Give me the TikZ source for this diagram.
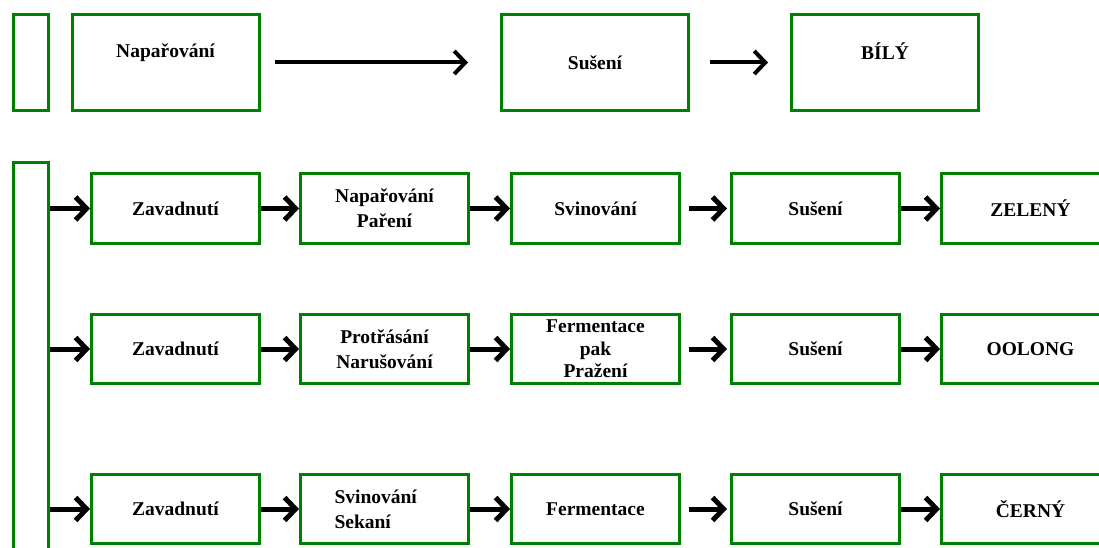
\documentclass[tikz,border=0pt]{standalone}
\usepackage{fontspec}
\setmainfont{Liberation Serif}
\usepackage{tikz}
\usetikzlibrary{arrows.meta,positioning}
\definecolor{leaf}{HTML}{008000}

\begin{document}
\begin{tikzpicture}[x=1pt,y=-1pt,every node/.style={font=\bfseries\fontsize{19.5}{25}\selectfont,align=center},box/.style={draw=leaf,line width=3pt,fill=white,minimum width=168pt,minimum height=69pt,inner sep=0pt},bigbox/.style={box,minimum width=187pt,minimum height=96pt},arr/.style={-{Straight Barb[length=11pt,width=23pt]},line width=5pt,black}]
\useasboundingbox (0,0) rectangle (1099,548);
% top row
\node[draw=leaf,line width=3pt,minimum width=35pt,minimum height=96pt,inner sep=0pt] (bartop) at (31,62.5) {};
\node[bigbox,label={[yshift=10pt]center:Napařování}] (napar) at (165.5,62.5) {};
\node[bigbox] (susb) at (595,62.5) {Sušení};
\node[bigbox,label={[yshift=11pt]center:BÍLÝ}] (bily) at (885,62.5) {};
\draw[arr,line width=4pt,shorten <=14pt,shorten >=32pt] (napar)--(susb);
\draw[arr,line width=4pt,shorten <=20pt,shorten >=22pt] (susb)--(bily);
% left bar
\node[draw=leaf,line width=3pt,minimum width=35pt,minimum height=400pt,inner sep=0pt] (stem) at (31,363) {};
% green row
\node[box] (zav1) at (175.5,208.5) {Zavadnutí};
\node[box,right=38pt of zav1] (par1) {Napařování\\ Paření};
\node[box,right=40pt of par1] (svi1) {Svinování};
\node[box,right=49pt of svi1] (sus1) {Sušení};
\node[box,right=39pt of sus1,minimum width=178pt] (zel) {ZELENÝ};
% oolong row
\node[box] (zav2) at (175.5,349) {Zavadnutí};
\node[box,right=38pt of zav2] (pro2) {Protřásání\\ Narušování};
\node[box,right=40pt of pro2,font=\bfseries\fontsize{19.5}{22.5}\selectfont] (fer2) {Fermentace\\ pak\\ Pražení};
\node[box,right=49pt of fer2] (sus2) {Sušení};
\node[box,right=39pt of sus2,minimum width=178pt] (ool) {OOLONG};
% black row
\node[box] (zav3) at (175.5,509) {Zavadnutí};
\node[box,right=38pt of zav3,align=left,text width=100pt] (svi3) {Svinování\\ Sekaní};
\node[box,right=40pt of svi3] (fer3) {Fermentace};
\node[box,right=49pt of fer3] (sus3) {Sušení};
\node[box,right=39pt of sus3,minimum width=178pt] (cer) {ČERNÝ};
% arrows
\foreach \a in {zav1,zav2,zav3}
  \draw[arr] (stem.east |- \a.west)--(\a.west);
\draw[arr] (zav1)--(par1);
\draw[arr] (par1)--(svi1);
\draw[arr,shorten <=8pt,shorten >=3pt] (svi1)--(sus1);
\draw[arr] (sus1)--(zel);
\draw[arr] (zav2)--(pro2);
\draw[arr] (pro2)--(fer2);
\draw[arr,shorten <=8pt,shorten >=3pt] (fer2)--(sus2);
\draw[arr] (sus2)--(ool);
\draw[arr] (zav3)--(svi3);
\draw[arr] (svi3)--(fer3);
\draw[arr,shorten <=8pt,shorten >=3pt] (fer3)--(sus3);
\draw[arr] (sus3)--(cer);
\end{tikzpicture}
\end{document}
